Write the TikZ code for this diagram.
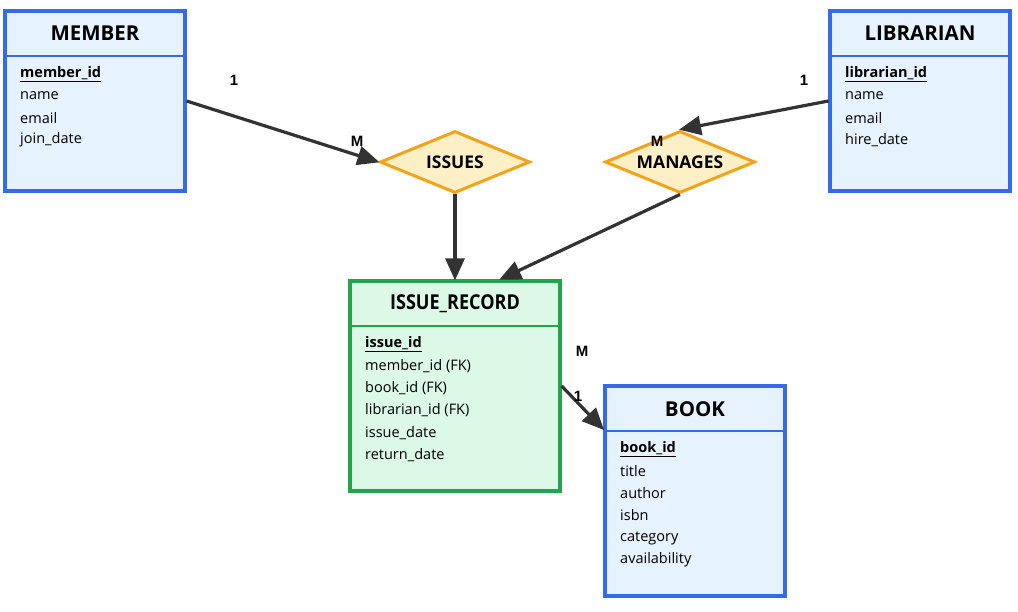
\documentclass[tikz,border=0pt]{standalone}
\usepackage{fontspec}
\setmainfont{Open Sans}
\newfontfamily\lblfont{Liberation Sans}
\usetikzlibrary{shapes.geometric,arrows.meta,calc}
\definecolor{entb}{HTML}{356BE6}
\definecolor{entf}{HTML}{E6F2FD}
\definecolor{grnb}{HTML}{25A24C}
\definecolor{grnf}{HTML}{DCF8E6}
\definecolor{relb}{HTML}{F3A21A}
\definecolor{relf}{HTML}{FEF0C6}
\definecolor{edge}{HTML}{333333}
\tikzset{
  entbox/.style={draw=entb, fill=entf, line width=3.2pt, minimum width=180pt, inner sep=0pt, rectangle},
  grnbox/.style={draw=grnb, fill=grnf, line width=3.2pt, minimum width=210pt, minimum height=210pt, inner sep=0pt, rectangle},
  sepline/.style={line width=1.8pt},
  title/.style={font=\fontsize{20.5}{24}\selectfont\bfseries, anchor=center},
  attr/.style={font=\fontsize{14.5}{17}\selectfont, anchor=west, inner sep=0pt},
  rel/.style={diamond, aspect=2.42, draw=relb, fill=relf, line width=3pt, minimum width=150pt, minimum height=62pt, inner sep=0pt, font=\fontsize{17.5}{20}\selectfont\bfseries},
  conn/.style={draw=edge, line width=3.2pt, -{Triangle[length=22pt,width=19pt]}, shorten >=-1pt},
  card/.style={font=\lblfont\fontsize{15}{17}\selectfont\bfseries, inner sep=0pt}
}
\begin{document}
\begin{tikzpicture}[x=1pt,y=-1pt]
\useasboundingbox (0,0) rectangle (1018,612);
% MEMBER
\node[entbox, minimum height=180pt] (member) at (95,101) {};
\draw[entb, sepline] (5,56) -- (185,56);
\node[title] (memberT) at (95,33) {MEMBER};
\node[attr] (m1) at (20,74) {\bfseries\underline{member\_id}};
\node[attr] (m2) at (20,96) {name};
\node[attr] (m3) at (20,118) {email};
\node[attr] (m4) at (20,140) {join\_date};
% LIBRARIAN
\node[entbox, minimum height=180pt] (lib) at (920,101) {};
\draw[entb, sepline] (830,56) -- (1010,56);
\node[title] (libT) at (920,33) {LIBRARIAN};
\node[attr] (l1) at (845,74) {\bfseries\underline{librarian\_id}};
\node[attr] (l2) at (845,96) {name};
\node[attr] (l3) at (845,118) {email};
\node[attr] (l4) at (845,140) {hire\_date};
% ISSUE_RECORD
\node[grnbox] (ir) at (455,386) {};
\draw[grnb, sepline] (350,326) -- (560,326);
\node[title, xscale=0.88] (irT) at (455,304) {ISSUE\_RECORD};
\node[attr] (i1) at (365,344) {\bfseries\underline{issue\_id}};
\node[attr] (i2) at (365,366) {member\_id (FK)};
\node[attr] (i3) at (365,388) {book\_id (FK)};
\node[attr] (i4) at (365,410) {librarian\_id (FK)};
\node[attr] (i5) at (365,433) {issue\_date};
\node[attr] (i6) at (365,455) {return\_date};
% BOOK
\node[entbox, minimum height=210pt] (book) at (695,491) {};
\draw[entb, sepline] (605,431) -- (785,431);
\node[title] (bookT) at (695,409) {BOOK};
\node[attr] (b1) at (620,449) {\bfseries\underline{book\_id}};
\node[attr] (b2) at (620,471) {title};
\node[attr] (b3) at (620,493) {author};
\node[attr] (b4) at (620,515) {isbn};
\node[attr] (b5) at (620,538) {category};
\node[attr] (b6) at (620,560) {availability};
% relationships
\node[rel] (issues) at (455,162) {ISSUES};
\node[rel] (manages) at (680,162) {MANAGES};
% connector endpoints
\coordinate (irTop) at ($(ir.north)+(45,0)$);
\coordinate (bookCorner) at ($(book.north west)+(0,45)$);
% connectors
\draw[conn] (member.east) -- (issues.west);
\draw[conn] (lib.west) -- (manages.north);
\draw[conn] (issues.south) -- (ir.north);
\draw[conn] (manages.south) -- (irTop);
\draw[conn] (ir.east) -- (bookCorner);
% cardinalities
\node[card] (c1) at (234,80) {1};
\node[card] (c2) at (357,141) {M};
\node[card] (c3) at (804,80) {1};
\node[card] (c4) at (657,141) {M};
\node[card] (c5) at (582,351) {M};
\node[card] (c6) at (578,396) {1};
\end{tikzpicture}
\end{document}
